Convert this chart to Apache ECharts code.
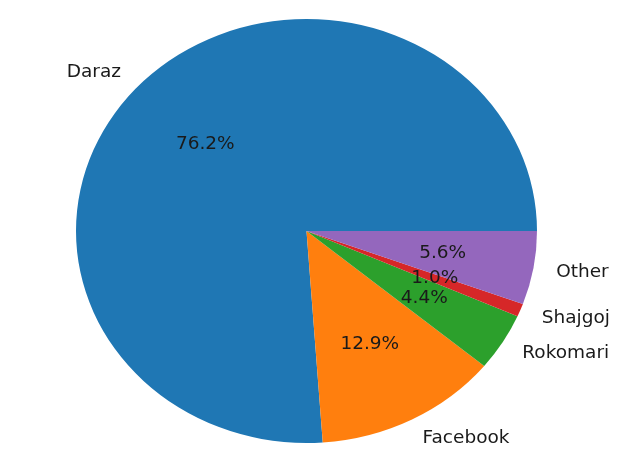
<!DOCTYPE html>
<html>
<head>
<meta charset="utf-8">
<script src="https://cdn.jsdelivr.net/npm/echarts@6/dist/echarts.min.js"></script>
<style>
  html, body { margin: 0; padding: 0; background: #fff; }
  #chart { width: 635px; height: 472px; }
</style>
</head>
<body>
<div id="chart"></div>
<script>
// shop names and their share (%)
const shops = ['Daraz', 'Facebook', 'Rokomari', 'Shajgoj', 'Other']
const shares = [76.2, 12.9, 4.4, 1.0, 5.6]
const colors = ['#1f77b4', '#ff7f0e', '#2ca02c', '#d62728', '#9467bd']

// ellipse geometry (matplotlib pie drawn without equal aspect)
const cx = 306.5, cy = 231, rx = 230.5, ry = 212
const total = shares.reduce((a, b) => a + b, 0)
let startAngles = []
let acc = 0
shares.forEach(v => { startAngles.push(acc); acc += v / total * 360 })

const font = '"DejaVu Sans", sans-serif'

function renderWedge(params, api) {
  let i = params.dataIndex
  let a0 = startAngles[i]
  let a1 = a0 + api.value(1) / total * 360
  let mid = (a0 + a1) / 2 * Math.PI / 180
  let c = Math.cos(mid), s = Math.sin(mid)
  return {
    type: 'group',
    children: [
      {
        type: 'group',
        x: cx, y: cy,
        scaleY: ry / rx,
        children: [{
          type: 'sector',
          shape: {
            cx: 0, cy: 0, r: rx, r0: 0,
            startAngle: -a0 * Math.PI / 180,
            endAngle: -a1 * Math.PI / 180,
            clockwise: false
          },
          style: { fill: colors[i] }
        }]
      },
      {
        type: 'text',
        x: cx + 0.6 * rx * c,
        y: cy - 0.6 * ry * s,
        style: {
          text: api.value(1).toFixed(1) + '%',
          fill: '#1a1a1a', font: '18.5px ' + font,
          align: 'center', verticalAlign: 'middle'
        },
        z2: 10
      },
      {
        type: 'text',
        x: cx + 1.1 * rx * c,
        y: cy - 1.1 * ry * s,
        style: {
          text: shops[i],
          fill: '#1a1a1a', font: '18.5px ' + font,
          align: c > 0 ? 'left' : 'right', verticalAlign: 'middle'
        },
        z2: 10
      }
    ]
  }
}

let chart = echarts.init(document.getElementById('chart'))
chart.setOption({
  animation: false,
  series: [{
    type: 'custom',
    coordinateSystem: 'none',
    renderItem: renderWedge,
    data: shares.map((v, i) => [i, v])
  }]
})
</script>
</body>
</html>
